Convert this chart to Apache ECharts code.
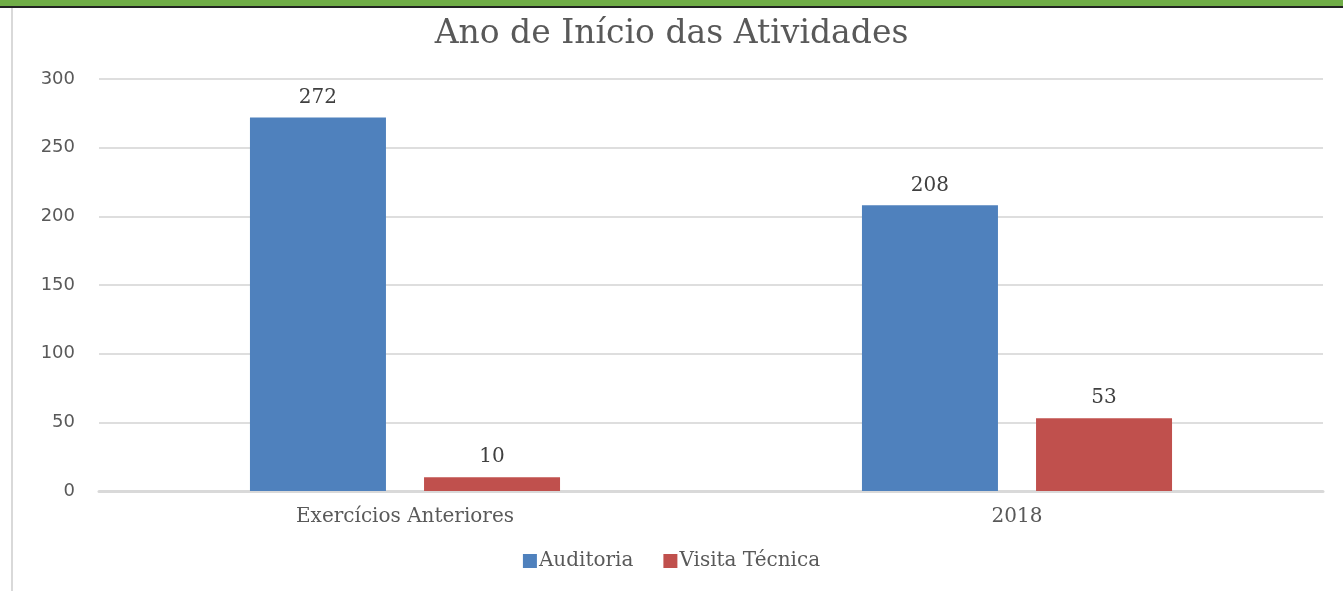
<!DOCTYPE html>
<html><head><meta charset="utf-8">
<script src="https://cdn.jsdelivr.net/npm/echarts@6/dist/echarts.min.js"></script>
<style>
html,body{margin:0;padding:0;background:#fff;}
#top{position:absolute;left:0;top:0;width:1343px;height:6px;background:#70ad47;}
#topline{position:absolute;left:0;top:6px;width:1343px;height:2px;background:#222;}
#leftline{position:absolute;left:11px;top:8px;width:2px;height:583px;background:#d9d9d9;}
#chart{position:absolute;left:0;top:0;width:1343px;height:591px;}
</style></head>
<body>
<div id="chart"></div>
<div id="top"></div><div id="topline"></div><div id="leftline"></div>
<script>
const titleText = 'Ano de Início das Atividades';
const categories = ['Exercícios Anteriores', '2018'];
const seriesNames = ['Auditoria', 'Visita Técnica'];
const auditoria = [272, 208];
const visitaTecnica = [10, 53];
const yTicks = [0, 50, 100, 150, 200, 250, 300];

const serif = '"DejaVu Serif", "Liberation Serif", serif';
const chart = echarts.init(document.getElementById('chart'));
chart.setOption({
  animation: false,
  title: {
    text: titleText, left: 'center', top: 13,
    textStyle: {fontFamily: serif, fontSize: 33, fontWeight: 'normal', color: '#595959'}
  },
  legend: {
    data: seriesNames, bottom: 15, left: 'center', itemWidth: 14, itemHeight: 14, itemGap: 30,
    icon: 'rect',
    textStyle: {fontFamily: serif, fontSize: 20, color: '#595959', padding: [0,0,0,-3]}
  },
  grid: {left: 99, right: 20, top: 79, bottom: 100, containLabel: false},
  xAxis: {
    type: 'category', data: categories,
    axisLine: {lineStyle: {color: '#d9d9d9', width: 3}},
    axisTick: {show: false},
    axisLabel: {fontFamily: serif, fontSize: 20, color: '#595959', margin: 16}
  },
  yAxis: {
    type: 'value', min: yTicks[0], max: yTicks[yTicks.length-1], interval: 50,
    axisLine: {show: false}, axisTick: {show: false},
    axisLabel: {fontFamily: '"DejaVu Sans", sans-serif', fontSize: 18, color: '#595959', margin: 24},
    splitLine: {lineStyle: {color: '#dedede', width: 2}}
  },
  series: [
    {name: seriesNames[0], type: 'bar', data: auditoria, barWidth: 136, barGap: '28%',
     itemStyle: {color: '#4f81bd'},
     label: {show: true, position: 'top', distance: 10, fontFamily: serif, fontSize: 20, color: '#404040'}},
    {name: seriesNames[1], type: 'bar', data: visitaTecnica, barWidth: 136,
     itemStyle: {color: '#c0504d'},
     label: {show: true, position: 'top', distance: 10, fontFamily: serif, fontSize: 20, color: '#404040'}}
  ]
});
</script>
</body></html>
